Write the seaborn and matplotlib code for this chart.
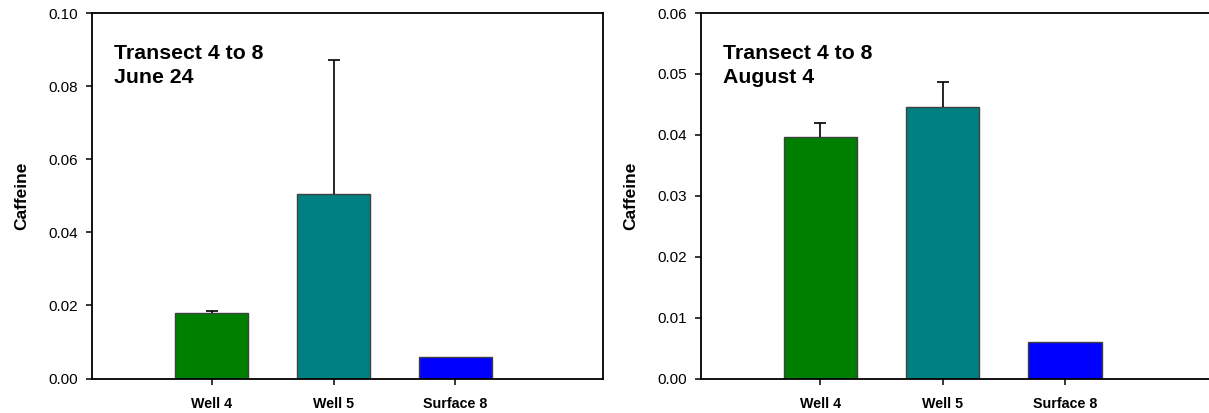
import pandas as pd
import seaborn as sns
import matplotlib.pyplot as plt

sites = ['Well 4', 'Well 5', 'Surface 8']
colors = ['#008000', '#008080', '#0000ff']

# June 24 campaign
june_mean = [0.0180, 0.0505, 0.0060]
june_err = [0.0004, 0.0366, 0.0]

# August 4 campaign
aug_mean = [0.0397, 0.0446, 0.0060]
aug_err = [0.0023, 0.0041, 0.0]

sns.set_style('ticks')
plt.rcParams['font.family'] = ['Liberation Sans', 'DejaVu Sans']
plt.rcParams['text.color'] = 'black'
plt.rcParams['axes.labelcolor'] = 'black'
plt.rcParams['xtick.color'] = 'black'
plt.rcParams['ytick.color'] = 'black'

fig = plt.figure(figsize=(12.09, 4.13), dpi=100)
ax1 = fig.add_axes([0.0761, 0.0835, 0.4227, 0.885])
ax2 = fig.add_axes([0.5796, 0.0835, 0.4235, 0.885])

panels = [
    (ax1, june_mean, june_err, 0.10, 0.02, 'Transect 4 to 8\nJune 24'),
    (ax2, aug_mean, aug_err, 0.06, 0.01, 'Transect 4 to 8\nAugust 4'),
]

for ax, mean, err, ymax, step, label in panels:
    df = pd.DataFrame({'site': sites, 'caffeine': mean})
    sns.barplot(data=df, x='site', y='caffeine', hue='site', palette=colors,
                saturation=1, width=0.6, edgecolor='#404040', linewidth=1,
                legend=False, ax=ax, errorbar=None)
    # only the upper half of the error bar is drawn, skip zero errors
    keep = [i for i in range(len(sites)) if err[i] > 0]
    eb = ax.errorbar([sites[i] for i in keep], [mean[i] for i in keep],
                     yerr=[[0] * len(keep), [err[i] for i in keep]],
                     fmt='none', ecolor='black', elinewidth=1.2,
                     capsize=4.3, capthick=1.2)
    eb.lines[1][0].set_visible(False)
    ax.set_xlim(-0.98, 3.21)
    ax.set_ylim(0, ymax)
    ticks = [i * step for i in range(int(round(ymax / step)) + 1)]
    ax.set_yticks(ticks)
    ax.set_yticklabels(['{:.2f}'.format(t) for t in ticks], fontsize=11)
    ax.set_xlabel('')
    ax.set_ylabel('Caffeine', fontsize=12.5, fontweight='bold', labelpad=14)
    for t in ax.get_xticklabels():
        t.set_fontweight('bold')
        t.set_fontsize(10.3)
    ax.tick_params(direction='out', length=4.5, width=1.1, pad=5.5)
    ax.tick_params(axis='x', pad=8.5)
    for s in ax.spines.values():
        s.set_color('black')
        s.set_linewidth(1.3)
    ax.text(0.043, 0.915, label, transform=ax.transAxes, fontsize=15.3,
            fontweight='bold', va='top', ha='left', linespacing=1.3)

ax2.spines['right'].set_visible(False)

fig.savefig('out.png', dpi=100)
